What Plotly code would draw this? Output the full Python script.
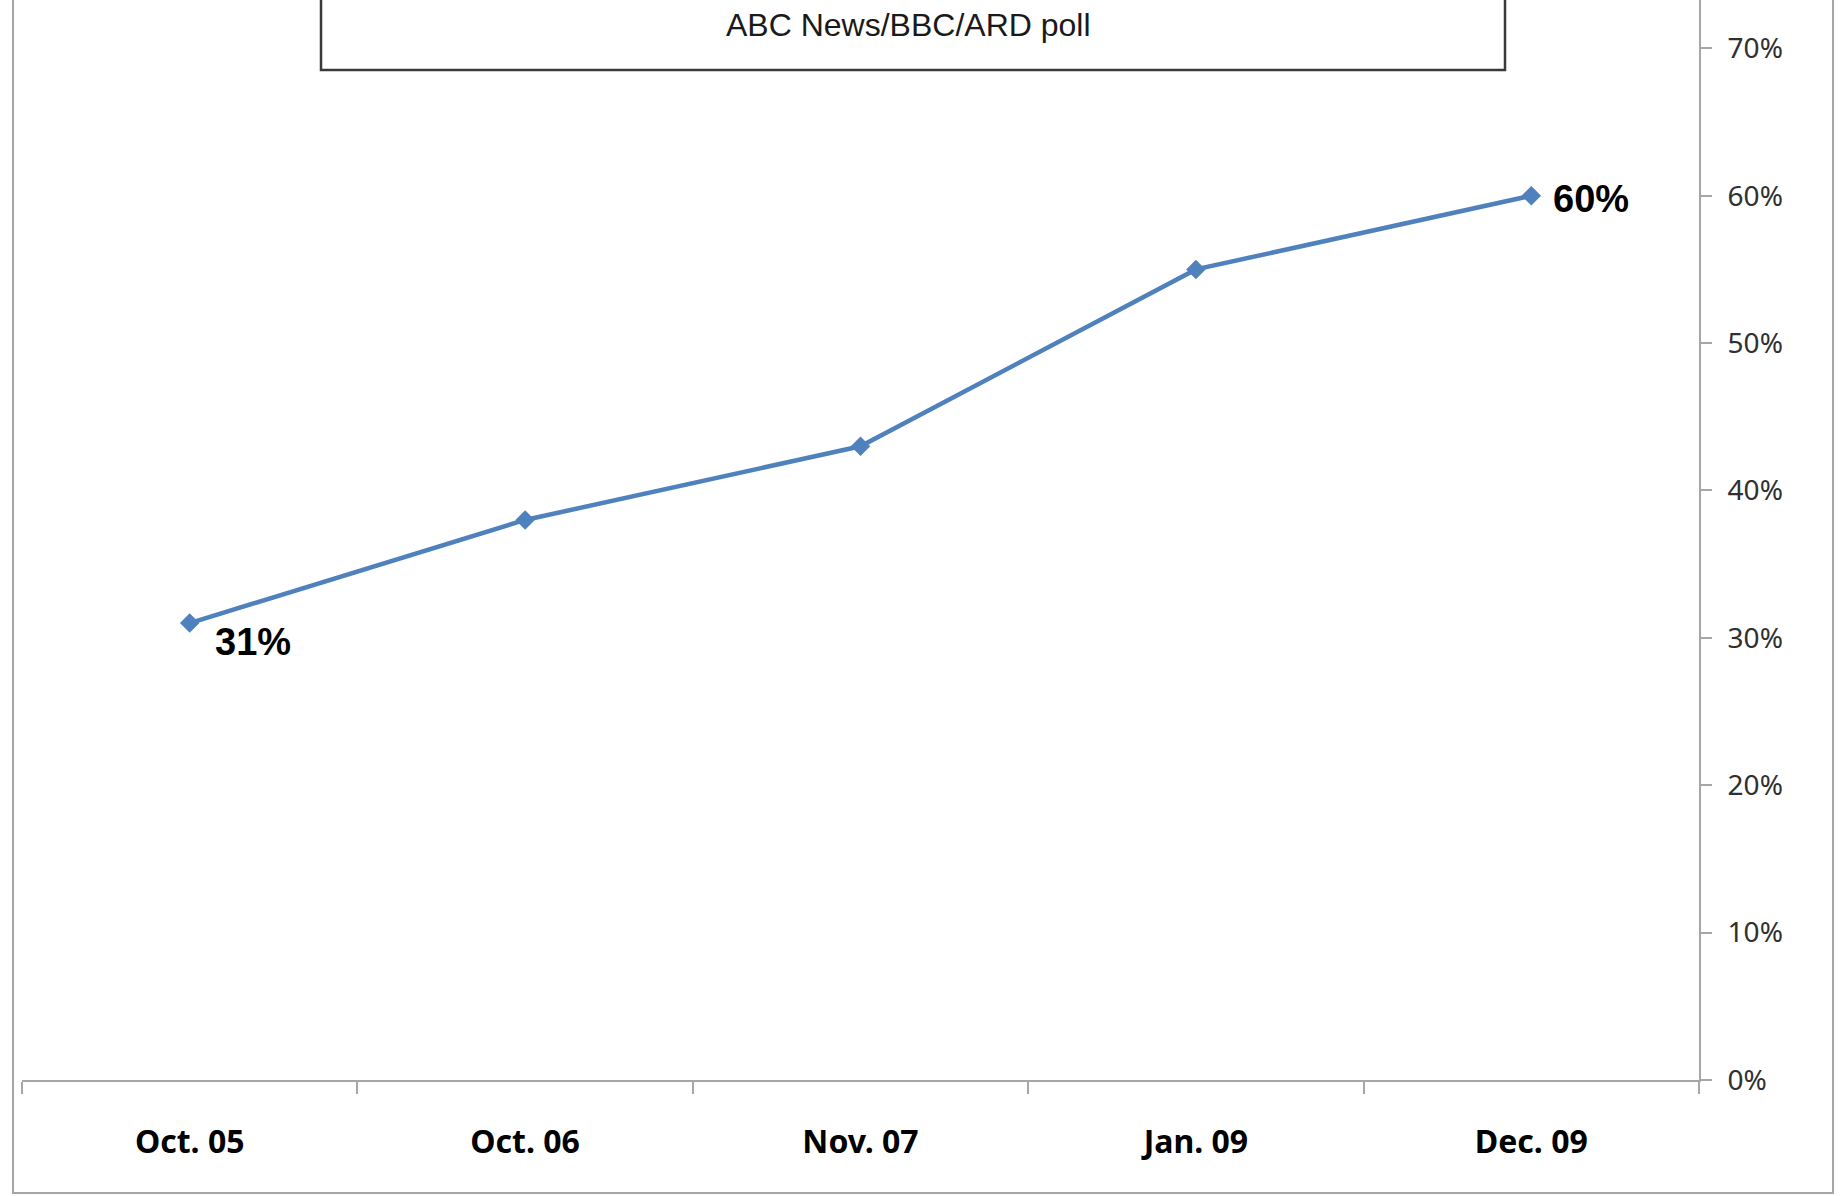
import plotly.graph_objects as go

categories = ["Oct. 05", "Oct. 06", "Nov. 07", "Jan. 09", "Dec. 09"]
values = [31, 38, 43, 55, 60]
subtitle = "ABC News/BBC/ARD poll"
y_ticks = [0, 10, 20, 30, 40, 50, 60, 70]

W, H = 1845, 1196
ML, MR, MT, MB = 22, 146, 0, 116
PW, PH = W - ML - MR, H - MT - MB


def px_x(p):
    return (p - ML) / PW


def px_y(p):
    return (H - MB - p) / PH


blue = "#4F81BD"
axis_gray = "#A6A6A6"

fig = go.Figure()
fig.add_trace(go.Scatter(
    x=categories, y=values, mode="lines+markers",
    line=dict(color=blue, width=4.5),
    marker=dict(symbol="diamond", size=15, color=blue),
    hoverinfo="skip", showlegend=False,
))

# data labels for first and last points
fig.add_annotation(x=categories[0], y=values[0], text=f"{values[0]}%",
                   showarrow=False, xanchor="left", yanchor="middle",
                   xshift=23, yshift=-19,
                   font=dict(family="Liberation Sans", size=38, color="black", weight="bold"))
fig.add_annotation(x=categories[-1], y=values[-1], text=f"{values[-1]}%",
                   showarrow=False, xanchor="left", yanchor="middle",
                   xshift=20, yshift=-3,
                   font=dict(family="Liberation Sans", size=38, color="black", weight="bold"))

# outer border
fig.add_shape(type="rect", xref="paper", yref="paper",
              x0=px_x(13), x1=px_x(1833), y0=px_y(1193), y1=1.05,
              line=dict(color=axis_gray, width=2), fillcolor="rgba(0,0,0,0)", layer="below")
# title box
fig.add_shape(type="rect", xref="paper", yref="paper",
              x0=px_x(321), x1=px_x(1505), y0=px_y(70), y1=1.05,
              line=dict(color="#3A3A3A", width=2.5), fillcolor="white", layer="above")
fig.add_annotation(xref="paper", yref="paper", x=px_x(909), y=px_y(25),
                   text=subtitle, showarrow=False, xanchor="center", yanchor="middle",
                   font=dict(family="Liberation Sans", size=32, color="#1a1a1a"))

fig.update_layout(
    width=W, height=H,
    margin=dict(l=ML, r=MR, t=MT, b=MB, pad=0),
    paper_bgcolor="white", plot_bgcolor="white",
    xaxis=dict(
        type="category", tickson="boundaries", range=[-0.5, 4.5],
        showgrid=False, zeroline=False,
        showline=True, linecolor=axis_gray, linewidth=2,
        ticks="outside", ticklen=12, tickwidth=2, tickcolor=axis_gray,
        ticklabelstandoff=33,
        tickfont=dict(family="Noto Sans", size=32, color="black", weight="bold"),
    ),
    yaxis=dict(
        side="right", range=[0, 73.28],
        tickvals=y_ticks, ticktext=[f"{v}%" for v in y_ticks],
        showgrid=False, zeroline=False,
        showline=True, linecolor=axis_gray, linewidth=2,
        ticks="outside", ticklen=11, tickwidth=2, tickcolor=axis_gray,
        ticklabelstandoff=10,
        tickfont=dict(family="Noto Sans", size=28, color="#303030"),
    ),
)

fig.write_html("out.html", config={"displayModeBar": False},
               post_script="document.body.style.margin='0';document.body.style.overflow='hidden';")
